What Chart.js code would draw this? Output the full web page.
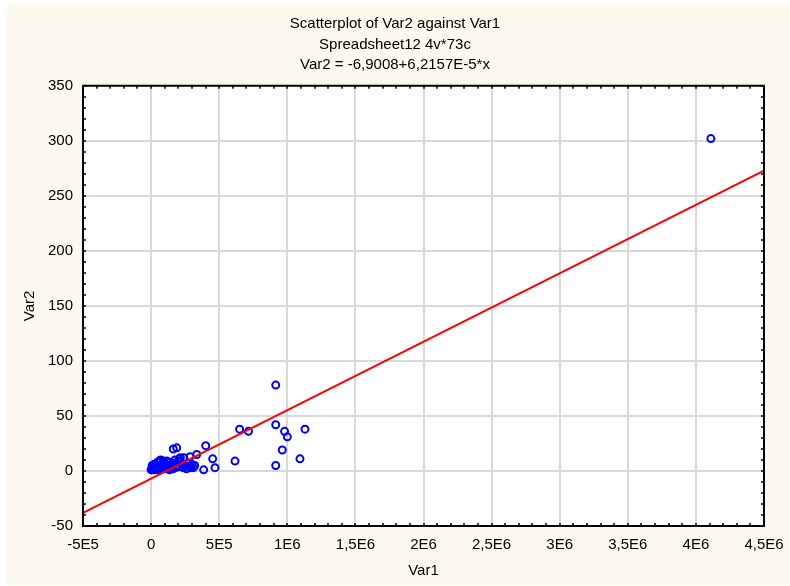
<!DOCTYPE html>
<html lang="en">
<head>
  <meta charset="UTF-8">
  <title>Scatterplot of Var2 against Var1</title>
  <style>
    html, body { margin: 0; padding: 0; background: #fff; }
  </style>
</head>
<body>
  <canvas id="scatterChart" width="790" height="586"></canvas>

  <script src="https://cdn.jsdelivr.net/npm/chart.js"></script>
  <script>
    // Var1 / Var2 (73 cases)
    const var1 = [
      4110000, 915000, 650000, 715000, 915000, 980000, 1000000, 1130000,
      963000, 1093000, 915000, 616000, 469000, 452000, 386000, 401000,
      335000, 286000, 188000, 163000, 205000, 320000, 286000,
      0, 5000, 10000, 15000, 20000, 25000, 30000, 35000, 40000, 45000,
      50000, 55000, 60000, 65000, 70000, 75000, 80000, 85000, 90000, 95000,
      100000, 110000, 115000, 120000, 130000, 140000, 150000, 155000, 160000,
      170000, 180000, 190000, 200000, 210000, 215000, 225000, 235000, 240000,
      250000, 260000, 270000, 280000, 290000, 300000, 310000,
      8000, 22000, 48000, 135000, 175000
    ];
    const var2 = [
      302, 78, 38, 36, 42, 36, 31, 38,
      19, 11, 5, 9, 3, 11, 1, 23,
      15, 13, 21, 20, 11, 5, 4,
      1, 2, 1, 3, 2, 1, 4, 2, 3, 1,
      5, 2, 9, 3, 10, 2, 6, 4, 9, 2,
      7, 3, 9, 5, 2, 8, 4, 6, 2,
      7, 3, 5, 9, 4, 12, 6, 3, 12,
      5, 2, 7, 4, 3, 6, 3,
      5, 6, 8, 1, 10
    ];

    // fitted line Var2 = -6,9008 + 6,2157E-5*x, ends at the axis limits
    const fitX = [-500000, 4500000];
    const fitY = [-38.0, 272.8];

    const titleLines = ['Scatterplot of Var2 against Var1', 'Spreadsheet12 4v*73c', 'Var2 = -6,9008+6,2157E-5*x'];
    const xTickLabels = ['-5E5', '0', '5E5', '1E6', '1,5E6', '2E6', '2,5E6', '3E6', '3,5E6', '4E6', '4,5E6'];
    const yTickLabels = ['-50', '0', '50', '100', '150', '200', '250', '300', '350'];

    const points = var1.map((x, i) => ({ x: x, y: var2[i] }));
    const fitLine = fitX.map((x, i) => ({ x: x, y: fitY[i] }));

    const FONT = 'Liberation Sans, Arial, sans-serif';

    // cream panel, white plot area, black frame with small inner ticks
    const frame = {
      id: 'frame',
      beforeDraw(chart) {
        const { ctx, chartArea: a } = chart;
        ctx.save();
        ctx.fillStyle = '#ffffff';
        ctx.fillRect(0, 0, chart.width, chart.height);
        ctx.fillStyle = '#fdf9ef';
        ctx.fillRect(7, 4, chart.width - 7, chart.height - 5);
        ctx.fillStyle = '#ffffff';
        ctx.fillRect(a.left, a.top, a.right - a.left, a.bottom - a.top);
        ctx.restore();
      },
      afterDraw(chart) {
        const { ctx, chartArea: a, scales } = chart;
        ctx.save();
        ctx.strokeStyle = '#000';
        ctx.lineWidth = 2;
        ctx.strokeRect(a.left, a.top, a.right - a.left, a.bottom - a.top);
        ctx.lineWidth = 1.5;
        ctx.beginPath();
        for (let v = -500000; v <= 4500000; v += 100000) {
          const px = Math.round(scales.x.getPixelForValue(v));
          ctx.moveTo(px, a.top); ctx.lineTo(px, a.top + 3);
          ctx.moveTo(px, a.bottom); ctx.lineTo(px, a.bottom - 3);
        }
        for (let v = -50; v <= 350; v += 10) {
          const py = Math.round(scales.y.getPixelForValue(v));
          ctx.moveTo(a.left, py); ctx.lineTo(a.left + 3, py);
          ctx.moveTo(a.right, py); ctx.lineTo(a.right - 3, py);
        }
        ctx.stroke();
        ctx.restore();
      }
    };

    const ctx = document.getElementById('scatterChart').getContext('2d');
    const chart = new Chart(ctx, {
      type: 'scatter',
      data: {
        datasets: [
          {
            type: 'line',
            label: 'fit',
            data: fitLine,
            borderColor: '#ff0000',
            borderWidth: 2,
            pointRadius: 0,
            fill: false
          },
          {
            label: 'Var2',
            data: points,
            pointStyle: 'circle',
            pointRadius: 3.5,
            borderWidth: 2,
            borderColor: '#0000ff',
            backgroundColor: 'rgba(0,0,0,0)'
          }
        ]
      },
      options: {
        responsive: false,
        animation: false,
        events: [],
        layout: { padding: 0 },
        plugins: {
          legend: { display: false },
          tooltip: { enabled: false },
          title: {
            display: true,
            text: titleLines,
            color: '#000',
            font: { family: FONT, size: 15, weight: 'normal', lineHeight: 1.35 },
            padding: { top: 14, bottom: 11 }
          }
        },
        scales: {
          x: {
            type: 'linear',
            min: -500000,
            max: 4500000,
            afterBuildTicks(scale) {
              scale.ticks = xTickLabels.map((_, i) => ({ value: -500000 + i * 500000 }));
            },
            afterFit(scale) {
              scale.height = 60;
              scale.paddingRight = 26;
            },
            ticks: {
              color: '#000',
              font: { family: FONT, size: 15 },
              padding: 10,
              maxRotation: 0,
              autoSkip: false,
              callback: (v, i) => xTickLabels[i]
            },
            grid: { color: '#d9d9d9', lineWidth: 2, drawTicks: false },
            border: { display: false },
            title: {
              display: true,
              text: 'Var1',
              color: '#000',
              font: { family: FONT, size: 15 },
              padding: { top: 0, bottom: 6 }
            }
          },
          y: {
            type: 'linear',
            min: -50,
            max: 350,
            afterBuildTicks(scale) {
              scale.ticks = yTickLabels.map((_, i) => ({ value: -50 + i * 50 }));
            },
            afterFit(scale) { scale.width = 83; },
            ticks: {
              color: '#000',
              font: { family: FONT, size: 15 },
              padding: 10,
              autoSkip: false,
              callback: (v, i) => yTickLabels[i]
            },
            grid: { color: '#d9d9d9', lineWidth: 2, drawTicks: false },
            border: { display: false },
            title: {
              display: true,
              text: 'Var2',
              color: '#000',
              font: { family: FONT, size: 15 },
              padding: { top: 21, bottom: 0 }
            }
          }
        }
      },
      plugins: [frame]
    });
  </script>
</body>
</html>
